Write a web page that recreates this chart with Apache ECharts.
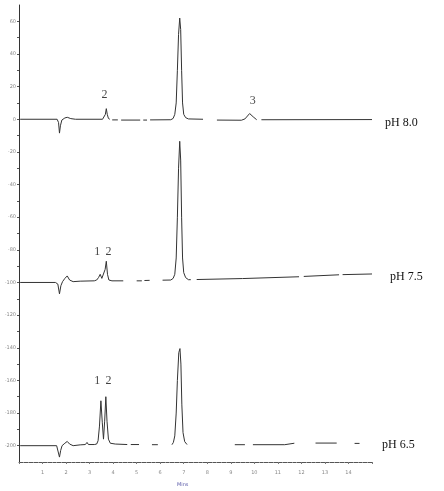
<!DOCTYPE html>
<html>
<head>
<meta charset="utf-8">
<script src="https://cdn.jsdelivr.net/npm/echarts@6/dist/echarts.min.js"></script>
<style>html,body{margin:0;padding:0;background:#fff;}#c{width:444px;height:491px;}</style>
</head>
<body>
<div id="c"></div>
<script>
// x tick labels (minutes) and y tick labels
var xTicks = [1,2,3,4,5,6,7,8,9,10,11,12,13,14];
var yTicks = [-200,-180,-160,-140,-120,-100,-80,-60,-40,-20,0,20,40,60];

// trace pH 8.0 [minutes, signal]
var tracePH80 = [
  [0.05,0],[1.62,0],[1.68,-2],[1.72,-8.5],[1.76,-4],[1.82,-0.5],[1.95,0.8],[2.05,1.2],[2.2,0.4],[2.4,0],
  [3.55,0],[3.62,0.5],[3.67,3],[3.71,6.5],[3.75,3],[3.8,0.5],[3.86,0],[3.9,null],
  [3.96,-0.4],[4.2,-0.4],[4.26,null],[4.34,-0.5],[5.15,-0.5],[5.2,null],[5.28,-0.5],[5.44,-0.5],[5.5,null],
  [5.57,-0.4],[6.45,-0.3],[6.55,0.5],[6.62,3],[6.68,10],[6.73,30],[6.78,52],[6.83,62],[6.87,55],[6.91,30],[6.95,10],[7.0,3],[7.08,1],[7.2,0.2],[7.82,0],[7.85,null],
  [8.41,-0.5],[9.45,-0.6],[9.6,0.2],[9.8,3.5],[9.95,1.5],[10.1,-0.3],[10.2,null],[10.3,-0.3],[15,-0.2]
];
// trace pH 7.5
var tracePH75 = [
  [0.05,-100],[1.55,-100],[1.65,-101],[1.72,-107],[1.78,-102],[1.85,-99.5],[1.95,-97.5],[2.05,-96],[2.15,-98.5],[2.3,-99.5],
  [2.6,-99.2],[3.2,-99],[3.3,-98.5],[3.38,-97],[3.45,-95],[3.52,-97.5],[3.6,-97],[3.66,-92],[3.71,-87],[3.76,-95],[3.82,-98.5],[3.95,-99],[4.43,-99],[4.48,null],
  [5.0,-99],[5.22,-99],[5.27,null],[5.33,-98.8],[5.55,-98.7],[5.6,null],[6.1,-98.6],[6.45,-98.5],[6.55,-97.5],[6.62,-95],[6.68,-85],[6.73,-60],[6.78,-30],[6.83,-13.5],[6.87,-25],[6.91,-60],[6.95,-85],[7.0,-94],[7.08,-97],[7.2,-98.3],[7.3,-98.3],[7.35,null],
  [7.55,-98.2],[9.5,-97.6],[11.9,-96.5],[11.95,null],[12.1,-96.3],[13.6,-95.3],[13.65,null],[13.75,-95.2],[15,-94.8]
];
// trace pH 6.5
var tracePH65 = [
  [0.05,-200],[1.6,-200],[1.66,-201],[1.72,-207],[1.77,-203],[1.83,-200],[1.95,-198.5],[2.05,-197.4],[2.15,-199],[2.3,-200],
  [2.6,-199.5],[2.82,-199.3],[2.89,-198],[2.95,-199.3],[3.2,-199.3],[3.3,-199],[3.36,-197],[3.42,-188],[3.48,-172.5],[3.54,-186],[3.59,-196],[3.64,-185],[3.69,-170],[3.74,-185],[3.8,-196],[3.88,-198.5],[4.09,-199],[4.6,-199.3],[4.65,null],
  [4.75,-199.3],[5.1,-199.3],[5.15,null],[5.65,-199.4],[5.9,-199.4],[5.95,null],
  [6.5,-199.4],[6.56,-198],[6.62,-194],[6.68,-180],[6.73,-160],[6.79,-143],[6.84,-140.5],[6.88,-150],[6.92,-175],[6.97,-192],[7.04,-197.5],[7.14,-199.3],[7.2,null],
  [9.17,-199.4],[9.6,-199.4],[9.65,null],[9.94,-199.4],[11.29,-199.4],[11.35,-198.5],[11.7,-198.5],[11.75,null],
  [12.6,-198.4],[13.5,-198.4],[13.55,null],[14.26,-198.6],[14.47,-198.6]
];
// peak annotations [minutes, signal, text]
var peakLabels = [
  [3.63,15,'2'],[9.93,11.5,'3'],
  [3.33,-81,'1'],[3.8,-81,'2'],
  [3.33,-160,'1'],[3.8,-160,'2']
];
var traceNames = ['pH 8.0','pH 7.5','pH 6.5'];

var chart = echarts.init(document.getElementById('c'), null, {renderer:'canvas'});
function lineSeries(d){
  return {type:'line', data:d, showSymbol:false, symbol:'none', connectNulls:false,
    lineStyle:{color:'#333', width:1}, animation:false, silent:true};
}
var option = {
  animation:false,
  grid:{left:19, right:72, top:5, bottom:29},
  xAxis:{type:'value', min:0, max:15, interval:1,
    axisLine:{show:true, onZero:false, lineStyle:{color:'#555', width:1}},
    axisTick:{show:true, length:2, lineStyle:{color:'#777'}},
    minorTick:{show:true, splitNumber:5, length:1, lineStyle:{color:'#999'}},
    splitLine:{show:false},
    axisLabel:{fontSize:5, color:'#888', margin:8, fontFamily:'DejaVu Sans',
      formatter:function(v){return xTicks.indexOf(v)>=0 ? String(v) : '';}}
  },
  yAxis:{type:'value', min:-210, max:70,
    axisLine:{show:true, lineStyle:{color:'#333', width:1}},
    axisTick:{show:true, length:2, inside:false, customValues:[-200,-190,-180,-170,-160,-150,-140,-130,-120,-110,-100,-90,-80,-70,-60,-50,-40,-30,-20,-10,0,10,20,30,40,50,60], lineStyle:{color:'#555'}},
    axisLabel:{fontSize:5, color:'#888', margin:3, fontFamily:'DejaVu Sans', customValues:yTicks},
    splitLine:{show:false}
  },
  series:[
    lineSeries(tracePH80), lineSeries(tracePH75), lineSeries(tracePH65),
    {type:'scatter', symbolSize:0, silent:true,
      data:peakLabels.map(function(p){return {value:[p[0],p[1]], name:p[2]};}),
      label:{show:true, position:'inside', formatter:'{b}', fontFamily:'Liberation Serif', fontSize:12, color:'#111'}}
  ]
};
chart.setOption(option);
chart.setOption({graphic:[
  {type:'text', left:385, top:117, style:{text:traceNames[0], fontFamily:'Liberation Serif', fontSize:12, fill:'#111'}},
  {type:'text', left:390, top:271, style:{text:traceNames[1], fontFamily:'Liberation Serif', fontSize:12, fill:'#111'}},
  {type:'text', left:382, top:439, style:{text:traceNames[2], fontFamily:'Liberation Serif', fontSize:12, fill:'#111'}},
  {type:'text', left:177, top:482, style:{text:'Mins', fontFamily:'DejaVu Sans', fontSize:5, fill:'#5a5aa8'}}
]});
</script>
</body>
</html>
